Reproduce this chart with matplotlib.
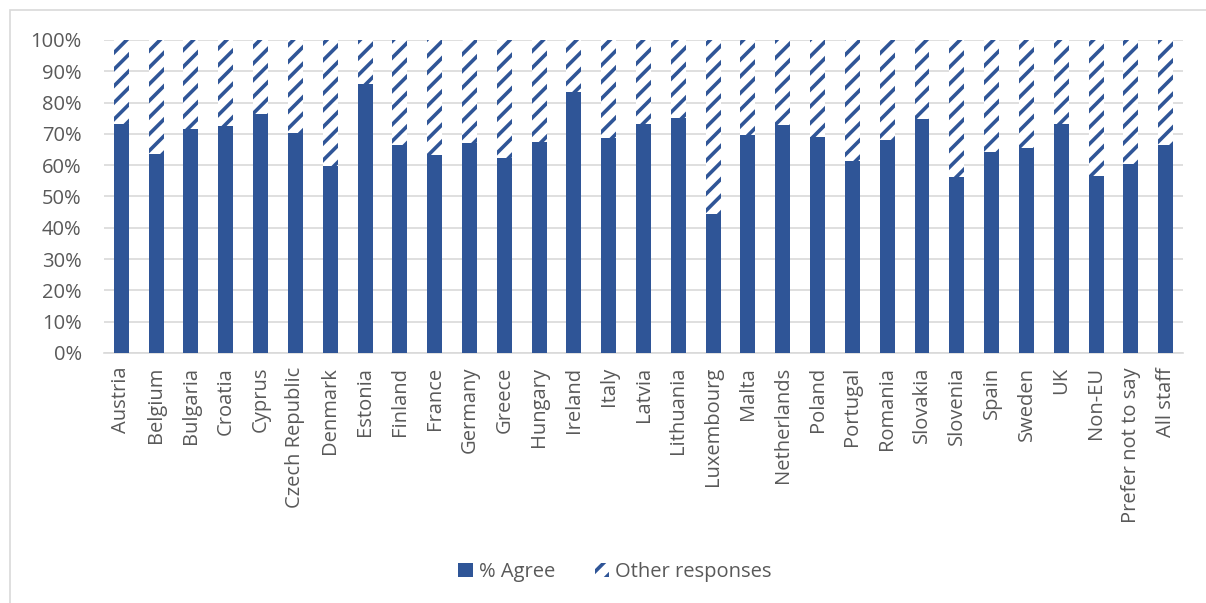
import numpy as np
import matplotlib
matplotlib.use("Agg")
import matplotlib.pyplot as plt
from matplotlib.patches import Rectangle, Patch
from matplotlib.ticker import PercentFormatter

# ----------------------------------------------------------------------
# DATA
# ----------------------------------------------------------------------
CATEGORIES = [
    "Austria", "Belgium", "Bulgaria", "Croatia", "Cyprus", "Czech Republic",
    "Denmark", "Estonia", "Finland", "France", "Germany", "Greece", "Hungary",
    "Ireland", "Italy", "Latvia", "Lithuania", "Luxembourg", "Malta",
    "Netherlands", "Poland", "Portugal", "Romania", "Slovakia", "Slovenia",
    "Spain", "Sweden", "UK", "Non-EU", "Prefer not to say", "All staff",
]
AGREE = [
    73.2, 63.5, 71.6, 72.6, 76.4, 70.4, 59.6, 85.9, 66.5, 63.4, 67.1, 62.3,
    67.4, 83.4, 68.6, 73.3, 75.1, 44.3, 69.7, 72.7, 69.0, 61.3, 67.9, 74.6,
    56.3, 64.1, 65.4, 73.1, 56.5, 60.3, 66.6,
]
OTHER = [100.0 - a for a in AGREE]

BLUE = "#2F5597"
GREY_TEXT = "#595959"
GRID = "#D9D9D9"
FS = 14.5

plt.rcParams["font.family"] = ["Open Sans", "DejaVu Sans"]
plt.rcParams["hatch.linewidth"] = 2.6
plt.rcParams["hatch.color"] = BLUE

fig = plt.figure(figsize=(12.06, 6.03), dpi=100)
ax = fig.add_axes([0.0862, 0.4146, 0.8948, 0.5191])

x = np.arange(len(CATEGORIES))
ax.bar(x, AGREE, width=0.43, color=BLUE, label="% Agree", zorder=3)
ax.bar(x, OTHER, width=0.43, bottom=AGREE, color="white", edgecolor=BLUE,
       linewidth=0, hatch="//", label="Other responses", zorder=3)

ax.set_xlim(-0.5, len(CATEGORIES) - 0.5)
ax.set_ylim(0, 100)
ax.set_yticks(np.arange(0, 101, 10))
ax.yaxis.set_major_formatter(PercentFormatter(decimals=0))
ax.set_xticks(x)
ax.set_xticklabels(CATEGORIES, rotation=90, va="top", ha="center")
ax.grid(axis="y", color=GRID, linewidth=1.2, zorder=0)
for s in ["top", "right", "left"]:
    ax.spines[s].set_visible(False)
ax.spines["bottom"].set_color(GRID)
ax.spines["bottom"].set_linewidth(1.2)
ax.tick_params(axis="both", length=0, labelsize=FS, labelcolor=GREY_TEXT)
ax.tick_params(axis="y", pad=16)
ax.tick_params(axis="x", pad=10)

handles = [
    Patch(facecolor=BLUE, label="% Agree"),
    Patch(facecolor="white", edgecolor=BLUE, linewidth=0, hatch="//",
          label="Other responses"),
]
fig.legend(handles=handles, loc="center", bbox_to_anchor=(0.51, 0.052),
           ncol=2, frameon=False, fontsize=FS, labelcolor=GREY_TEXT,
           handlelength=0.7, handleheight=0.7, handletextpad=0.3,
           columnspacing=2.0)

# chart-area border
fig.patches.append(Rectangle((10 / 1206, -0.1), 1.2, 1.1 - 10 / 603,
                             transform=fig.transFigure, fill=False,
                             edgecolor=GRID, linewidth=1.2))

fig.savefig("out.png", dpi=100)
